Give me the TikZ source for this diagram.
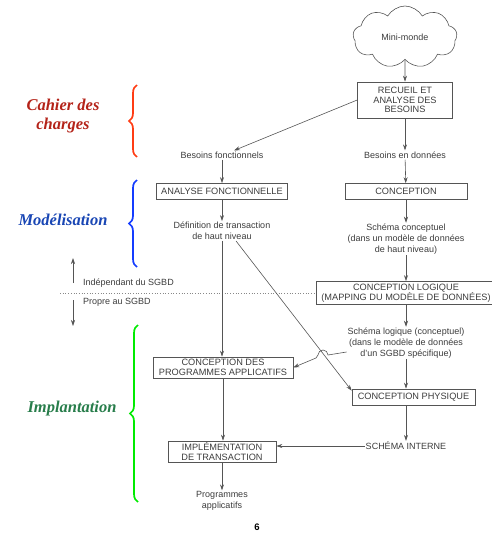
\documentclass[tikz,border=0pt]{standalone}
\usepackage{fontspec}
\setmainfont{Liberation Sans}
\newfontfamily\phasefont{Liberation Serif}
\usetikzlibrary{shapes.symbols,decorations.pathreplacing,arrows.meta}
\definecolor{trait}{RGB}{85,85,85}
\definecolor{texte}{RGB}{60,60,60}
\definecolor{cahier}{RGB}{180,35,25}
\definecolor{modele}{RGB}{25,70,180}
\definecolor{implant}{RGB}{40,125,75}
\definecolor{accrouge}{RGB}{255,60,20}
\definecolor{accbleu}{RGB}{20,60,255}
\definecolor{accvert}{RGB}{0,235,0}
\tikzset{
  etape/.style={draw=trait, line width=0.6pt, inner sep=0pt, align=center,
    text=texte, font=\fontsize{9.2}{9.8}\selectfont},
  resultat/.style={inner sep=1pt, align=center, text=texte,
    font=\fontsize{9}{10.8}\selectfont},
  fleche/.style={draw=trait, line width=0.6pt, -{Stealth[length=6pt,width=4pt]}},
  accolade/.style={decorate, decoration={brace, amplitude=8pt}, line width=1.7pt},
  phase/.style={align=center, font=\phasefont\bfseries\itshape\fontsize{16.5}{19}\selectfont},
}
\newcommand{\fleche}{\draw[fleche]}
\begin{document}
\begin{tikzpicture}[x=1pt,y=-1pt]
\useasboundingbox (0,0) rectangle (491,533);
% colonne droite
\node[cloud, cloud puffs=9, cloud puff arc=120, aspect=1.6, draw=trait, line width=0.6pt,
  minimum width=104, minimum height=62, text=texte, font=\fontsize{9}{10}\selectfont] (monde) at (405,37) {Mini-monde};
\node[etape, minimum width=95, minimum height=36] (recueil) at (405,100) {RECUEIL ET\\ANALYSE DES\\BESOINS};
\node[resultat] (besdon) at (405,155) {Besoins en donn\'ees};
\node[etape, minimum width=122, minimum height=16] (concept) at (406,191.5) {CONCEPTION};
\node[resultat] (schconc) at (406,239) {Sch\'ema conceptuel\\(dans un mod\`ele de donn\'ees\\de haut niveau)};
\node[etape, minimum width=180, minimum height=23] (logique) at (406,293) {CONCEPTION LOGIQUE\\(MAPPING DU MOD\`ELE DE DONN\'EES)};
\node[resultat] (schlog) at (406,343) {Sch\'ema logique (conceptuel)\\(dans le mod\`ele de donn\'ees\\d'un SGBD sp\'ecifique)};
\node[etape, minimum width=123, minimum height=16] (physique) at (413.5,397) {CONCEPTION PHYSIQUE};
\node[resultat] (schint) at (406,446) {SCH\'EMA INTERNE};
% colonne gauche
\node[resultat] (besfonc) at (222,155) {Besoins fonctionnels};
\node[etape, minimum width=131, minimum height=16] (analyse) at (222,191.5) {ANALYSE FONCTIONNELLE};
\node[resultat] (defin) at (222,231) {D\'efinition de transaction\\de haut niveau};
\node[etape, minimum width=140, minimum height=21] (prog) at (223,367.5) {CONCEPTION DES\\PROGRAMMES APPLICATIFS};
\node[etape, minimum width=108, minimum height=21] (impl) at (222,451.5) {IMPL\'EMENTATION\\DE TRANSACTION};
\node[resultat] (progapp) at (222,501) {Programmes\\applicatifs};
% frontiere SGBD
\node[resultat, anchor=west] (indep) at (82,283) {Ind\'ependant du SGBD};
\node[resultat, anchor=west] (propre) at (82,302) {Propre au SGBD};
\coordinate (haut) at (73,258);
\coordinate (bas) at (73,326);
\coordinate (pointille) at (60,293);
\draw[trait!70, dotted, line width=0.7pt] (pointille) -- (logique.west);
\fleche ([yshift=-25pt]haut) -- (haut);
\fleche ([yshift=26pt]bas) -- (bas);
% connecteurs
\fleche (monde.south) -- (recueil);
\fleche (recueil.west) -- ([xshift=12pt]besfonc.north);
\fleche (recueil) -- (besdon);
\fleche (besdon) -- (concept);
\fleche (concept) -- (schconc);
\fleche (schconc) -- (logique);
\fleche (logique) -- (schlog);
\fleche (schlog.south) -- (schlog.south |- physique.north);
\fleche (physique.south -| schint) -- (schint);
\fleche (besfonc) -- (analyse);
\fleche (analyse) -- (defin);
\fleche (defin.south) -- (defin.south |- prog.north);
\fleche ([xshift=14pt]defin.south) -- ([yshift=-2pt]physique.north west);
\fleche (prog.south) -- (prog.south |- impl.north);
\fleche (impl) -- (progapp);
\fleche (schint.west) -- (schint.west -| impl.east);
\draw[fleche] ([yshift=-9pt]schlog.west) -- (328,355) arc[start angle=0, end angle=-180, radius=5] -- (316,358) -- (prog.east);
% phases
\node[phase, text=cahier] (cahierlbl) at (63,116) {Cahier des\\charges};
\node[phase, text=modele] (modelbl) at (63,220) {Mod\'elisation};
\node[phase, text=implant] (implbl) at (72,409) {Implantation};
\draw[accolade, accrouge] (137,157) -- (137,85);
\draw[accolade, accbleu] (137,267) -- (137,180);
\draw[accolade, accvert] (138,502) -- (138,325);
\node[font=\bfseries\fontsize{9.5}{10}\selectfont] (page) at (257,527) {6};
\end{tikzpicture}
\end{document}
